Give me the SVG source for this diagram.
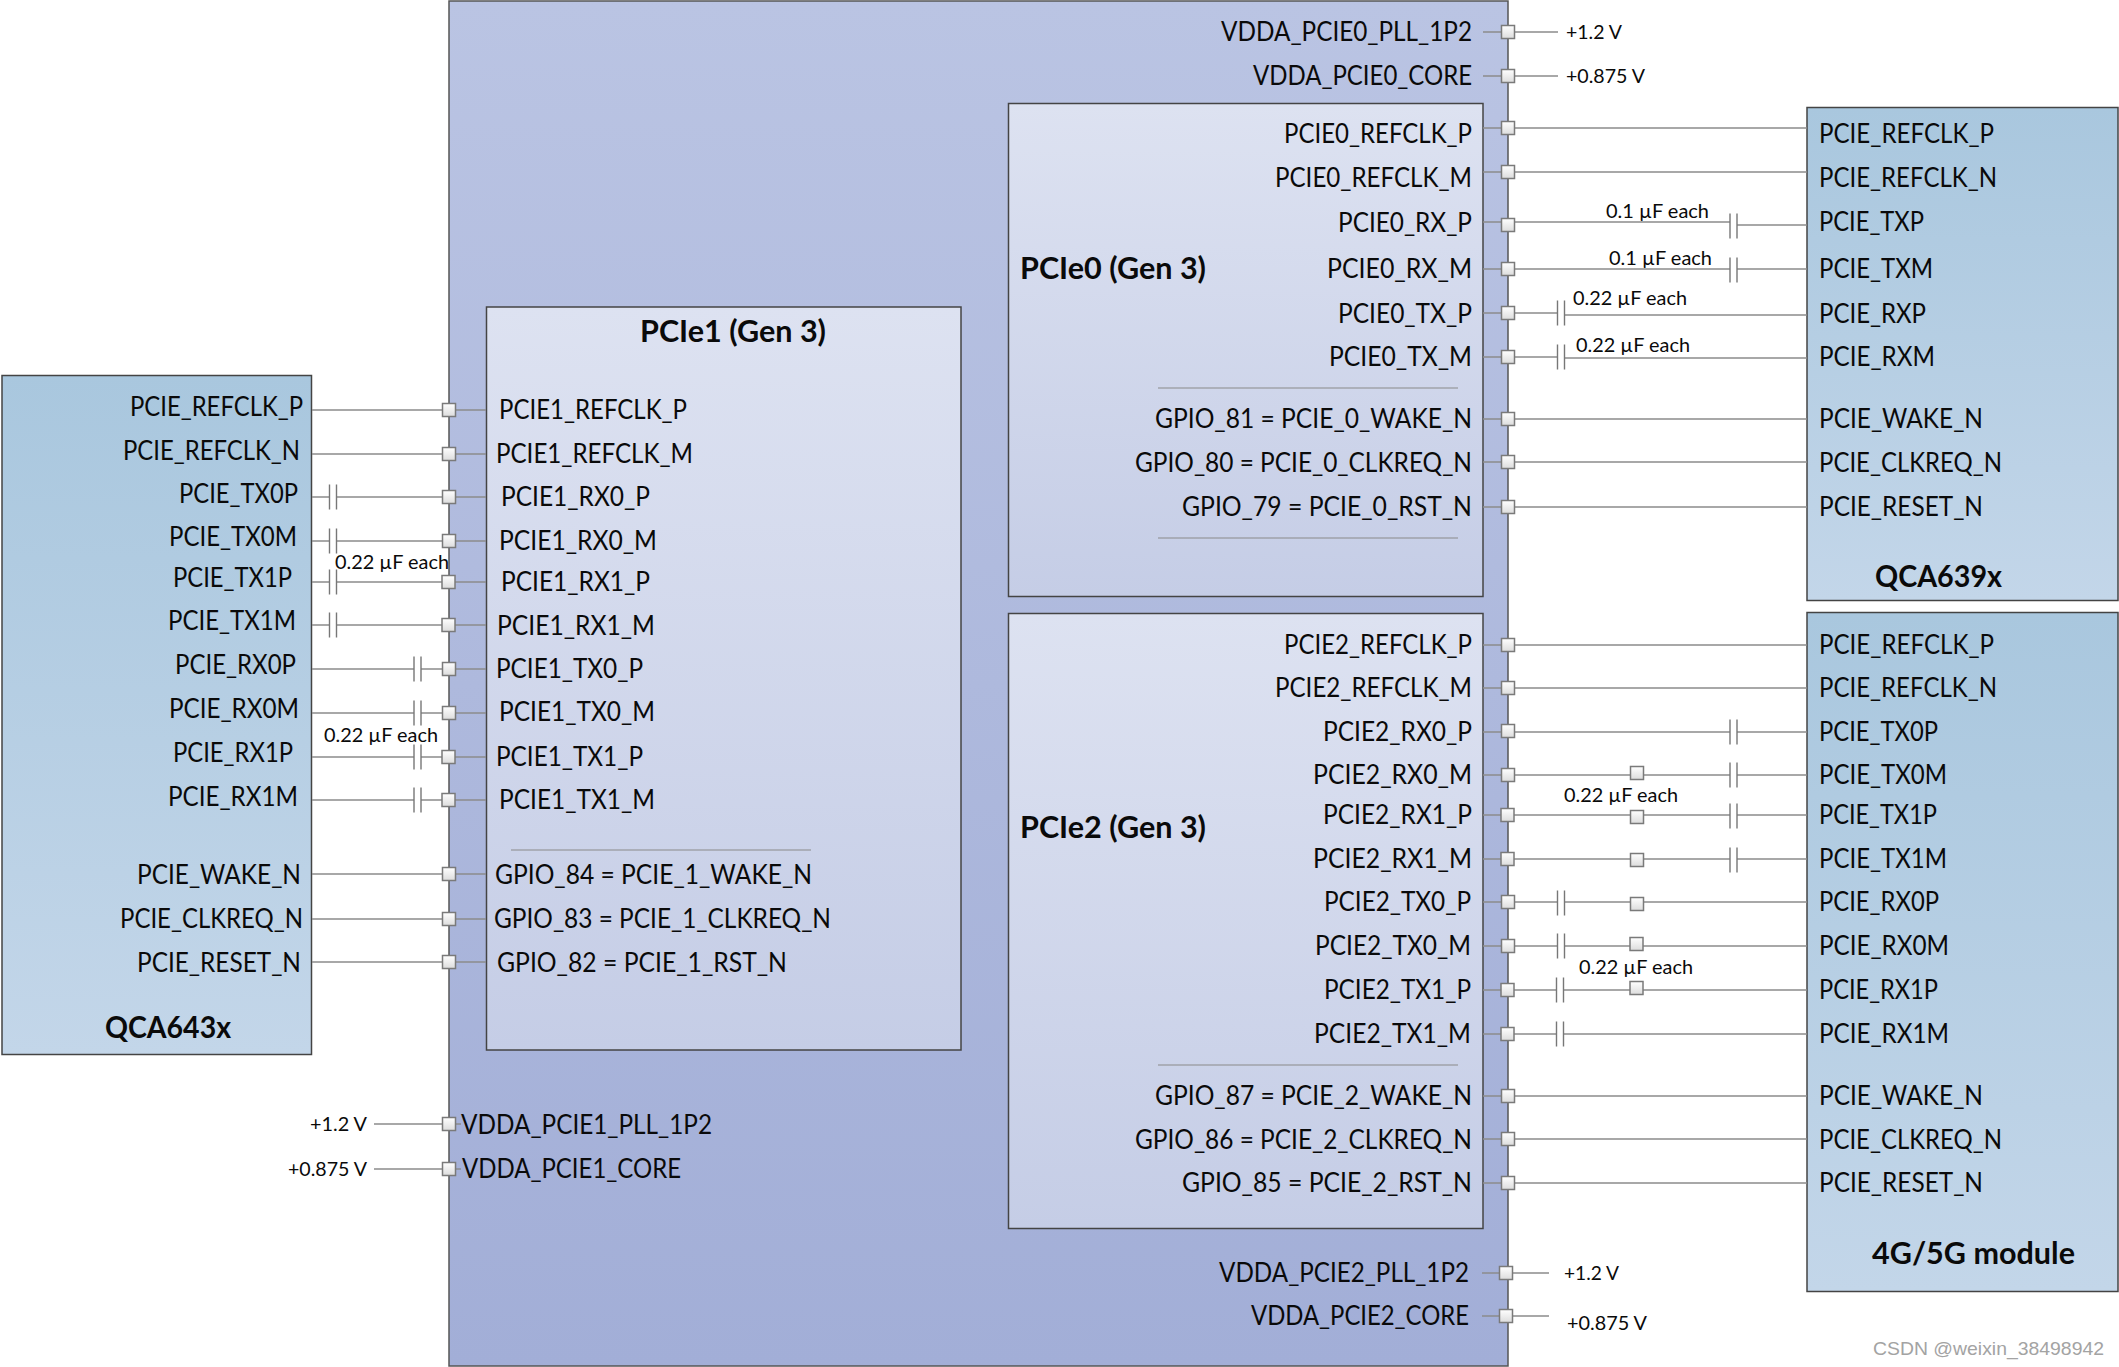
<svg xmlns="http://www.w3.org/2000/svg" width="2119" height="1367" viewBox="0 0 2119 1367">
<style>
text{font-family:Lato,"Noto Sans",sans-serif;fill:#0a0a0a}
.t{font-size:26px}
.b{font-size:30px;font-weight:700}
.s{font-size:20px}
.w{font-family:"Liberation Sans",sans-serif;font-size:19px;fill:#a3a3a3}
.box{stroke:#444;stroke-width:1.5}
.l{stroke:#8c8c8c;stroke-width:1.6;fill:none}
.c{stroke:#777;stroke-width:1.4;fill:none}
.r{stroke:#8a8a8a;stroke-width:1.2;fill:none}
</style>
<defs>
<linearGradient id="gm" x1="0" y1="0" x2="0" y2="1"><stop offset="0" stop-color="#bac4e3"/><stop offset="1" stop-color="#a2aed7"/></linearGradient>
<linearGradient id="gi" x1="0" y1="0" x2="0" y2="1"><stop offset="0" stop-color="#dde2f1"/><stop offset="1" stop-color="#c5cde6"/></linearGradient>
<linearGradient id="gb" x1="0" y1="0" x2="0" y2="1"><stop offset="0" stop-color="#a9c7de"/><stop offset="1" stop-color="#c3d6e9"/></linearGradient>
<linearGradient id="gp" x1="0" y1="0" x2="0" y2="1"><stop offset="0" stop-color="#ffffff"/><stop offset="1" stop-color="#dcdcdc"/></linearGradient>
<rect id="p" x="-6.500" y="-6.500" width="13" height="13" fill="url(#gp)" stroke="#7a7a7a" stroke-width="1.5"/>
<path id="cap" d="M-3.5-12.5V12.5M3.5-12.5V12.5" class="c"/>
</defs>
<rect width="2119" height="1367" fill="#fff"/>

<g id="soc"><rect x="449" y="1" width="1059" height="1365" fill="url(#gm)" stroke="#555" stroke-width="1.5"/></g>

<g id="pcie1-block">
<rect x="486.500" y="307" width="474.500" height="743" fill="url(#gi)" class="box"/>
<text class="b" x="640" y="342" textLength="186" lengthAdjust="spacingAndGlyphs">PCIe1 (Gen 3)</text>
<text class="t" x="499" y="419" textLength="188" lengthAdjust="spacingAndGlyphs">PCIE1_REFCLK_P</text>
<text class="t" x="496" y="463" textLength="197" lengthAdjust="spacingAndGlyphs">PCIE1_REFCLK_M</text>
<text class="t" x="501" y="506" textLength="149" lengthAdjust="spacingAndGlyphs">PCIE1_RX0_P</text>
<text class="t" x="499" y="550" textLength="158" lengthAdjust="spacingAndGlyphs">PCIE1_RX0_M</text>
<text class="t" x="501" y="591" textLength="149" lengthAdjust="spacingAndGlyphs">PCIE1_RX1_P</text>
<text class="t" x="497" y="635" textLength="158" lengthAdjust="spacingAndGlyphs">PCIE1_RX1_M</text>
<text class="t" x="496" y="678" textLength="147" lengthAdjust="spacingAndGlyphs">PCIE1_TX0_P</text>
<text class="t" x="499" y="721" textLength="156" lengthAdjust="spacingAndGlyphs">PCIE1_TX0_M</text>
<text class="t" x="496" y="766" textLength="147" lengthAdjust="spacingAndGlyphs">PCIE1_TX1_P</text>
<text class="t" x="499" y="809" textLength="156" lengthAdjust="spacingAndGlyphs">PCIE1_TX1_M</text>
<path class="r" d="M511 850H811"/>
<text class="t" x="495" y="884" textLength="317" lengthAdjust="spacingAndGlyphs">GPIO_84 = PCIE_1_WAKE_N</text>
<text class="t" x="494" y="928" textLength="337" lengthAdjust="spacingAndGlyphs">GPIO_83 = PCIE_1_CLKREQ_N</text>
<text class="t" x="497" y="972" textLength="290" lengthAdjust="spacingAndGlyphs">GPIO_82 = PCIE_1_RST_N</text>
</g>

<g id="pcie0-block">
<rect x="1008.500" y="103.500" width="474.500" height="493" fill="url(#gi)" class="box"/>
<text class="b" x="1020" y="279" textLength="186" lengthAdjust="spacingAndGlyphs">PCIe0 (Gen 3)</text>
<text class="t" x="1284" y="143" textLength="188" lengthAdjust="spacingAndGlyphs">PCIE0_REFCLK_P</text>
<text class="t" x="1275" y="187" textLength="197" lengthAdjust="spacingAndGlyphs">PCIE0_REFCLK_M</text>
<text class="t" x="1338" y="232" textLength="134" lengthAdjust="spacingAndGlyphs">PCIE0_RX_P</text>
<text class="t" x="1327" y="278" textLength="145" lengthAdjust="spacingAndGlyphs">PCIE0_RX_M</text>
<text class="t" x="1338" y="323" textLength="134" lengthAdjust="spacingAndGlyphs">PCIE0_TX_P</text>
<text class="t" x="1329" y="366" textLength="143" lengthAdjust="spacingAndGlyphs">PCIE0_TX_M</text>
<path class="r" d="M1158 388H1458M1158 538H1458"/>
<text class="t" x="1155" y="428" textLength="317" lengthAdjust="spacingAndGlyphs">GPIO_81 = PCIE_0_WAKE_N</text>
<text class="t" x="1135" y="472" textLength="337" lengthAdjust="spacingAndGlyphs">GPIO_80 = PCIE_0_CLKREQ_N</text>
<text class="t" x="1182" y="516" textLength="290" lengthAdjust="spacingAndGlyphs">GPIO_79 = PCIE_0_RST_N</text>
</g>

<g id="pcie2-block">
<rect x="1008.500" y="613.500" width="474.500" height="615" fill="url(#gi)" class="box"/>
<text class="b" x="1020" y="838" textLength="186" lengthAdjust="spacingAndGlyphs">PCIe2 (Gen 3)</text>
<text class="t" x="1284" y="654" textLength="188" lengthAdjust="spacingAndGlyphs">PCIE2_REFCLK_P</text>
<text class="t" x="1275" y="697" textLength="197" lengthAdjust="spacingAndGlyphs">PCIE2_REFCLK_M</text>
<text class="t" x="1323" y="741" textLength="149" lengthAdjust="spacingAndGlyphs">PCIE2_RX0_P</text>
<text class="t" x="1313" y="784" textLength="159" lengthAdjust="spacingAndGlyphs">PCIE2_RX0_M</text>
<text class="t" x="1323" y="824" textLength="149" lengthAdjust="spacingAndGlyphs">PCIE2_RX1_P</text>
<text class="t" x="1313" y="868" textLength="159" lengthAdjust="spacingAndGlyphs">PCIE2_RX1_M</text>
<text class="t" x="1324" y="911" textLength="147" lengthAdjust="spacingAndGlyphs">PCIE2_TX0_P</text>
<text class="t" x="1315" y="955" textLength="156" lengthAdjust="spacingAndGlyphs">PCIE2_TX0_M</text>
<text class="t" x="1324" y="999" textLength="147" lengthAdjust="spacingAndGlyphs">PCIE2_TX1_P</text>
<text class="t" x="1314" y="1043" textLength="157" lengthAdjust="spacingAndGlyphs">PCIE2_TX1_M</text>
<path class="r" d="M1158 1065H1458"/>
<text class="t" x="1155" y="1105" textLength="317" lengthAdjust="spacingAndGlyphs">GPIO_87 = PCIE_2_WAKE_N</text>
<text class="t" x="1135" y="1149" textLength="337" lengthAdjust="spacingAndGlyphs">GPIO_86 = PCIE_2_CLKREQ_N</text>
<text class="t" x="1182" y="1192" textLength="290" lengthAdjust="spacingAndGlyphs">GPIO_85 = PCIE_2_RST_N</text>
</g>

<g id="soc-supplies">
<text class="t" x="1221" y="41" textLength="251" lengthAdjust="spacingAndGlyphs">VDDA_PCIE0_PLL_1P2</text>
<text class="t" x="1253" y="85" textLength="219" lengthAdjust="spacingAndGlyphs">VDDA_PCIE0_CORE</text>
<text class="t" x="461" y="1134" textLength="251" lengthAdjust="spacingAndGlyphs">VDDA_PCIE1_PLL_1P2</text>
<text class="t" x="462" y="1178" textLength="219" lengthAdjust="spacingAndGlyphs">VDDA_PCIE1_CORE</text>
<text class="t" x="1219" y="1282" textLength="250" lengthAdjust="spacingAndGlyphs">VDDA_PCIE2_PLL_1P2</text>
<text class="t" x="1251" y="1325" textLength="218" lengthAdjust="spacingAndGlyphs">VDDA_PCIE2_CORE</text>
</g>

<g id="qca643x">
<rect x="2" y="375.500" width="309.500" height="679" fill="url(#gb)" class="box"/>
<text class="t" x="130" y="416" textLength="173" lengthAdjust="spacingAndGlyphs">PCIE_REFCLK_P</text>
<text class="t" x="123" y="460" textLength="177" lengthAdjust="spacingAndGlyphs">PCIE_REFCLK_N</text>
<text class="t" x="179" y="503" textLength="119" lengthAdjust="spacingAndGlyphs">PCIE_TX0P</text>
<text class="t" x="169" y="546" textLength="128" lengthAdjust="spacingAndGlyphs">PCIE_TX0M</text>
<text class="t" x="173" y="587" textLength="119" lengthAdjust="spacingAndGlyphs">PCIE_TX1P</text>
<text class="t" x="168" y="630" textLength="128" lengthAdjust="spacingAndGlyphs">PCIE_TX1M</text>
<text class="t" x="175" y="674" textLength="121" lengthAdjust="spacingAndGlyphs">PCIE_RX0P</text>
<text class="t" x="169" y="718" textLength="130" lengthAdjust="spacingAndGlyphs">PCIE_RX0M</text>
<text class="t" x="173" y="762" textLength="120" lengthAdjust="spacingAndGlyphs">PCIE_RX1P</text>
<text class="t" x="168" y="806" textLength="130" lengthAdjust="spacingAndGlyphs">PCIE_RX1M</text>
<text class="t" x="137" y="884" textLength="164" lengthAdjust="spacingAndGlyphs">PCIE_WAKE_N</text>
<text class="t" x="120" y="928" textLength="183" lengthAdjust="spacingAndGlyphs">PCIE_CLKREQ_N</text>
<text class="t" x="137" y="972" textLength="164" lengthAdjust="spacingAndGlyphs">PCIE_RESET_N</text>
<text class="b" x="105" y="1038" textLength="126" lengthAdjust="spacingAndGlyphs">QCA643x</text>
</g>

<g id="qca639x">
<rect x="1807" y="107.500" width="311" height="493" fill="url(#gb)" class="box"/>
<text class="t" x="1819" y="143" textLength="175" lengthAdjust="spacingAndGlyphs">PCIE_REFCLK_P</text>
<text class="t" x="1819" y="187" textLength="178" lengthAdjust="spacingAndGlyphs">PCIE_REFCLK_N</text>
<text class="t" x="1819" y="231" textLength="105" lengthAdjust="spacingAndGlyphs">PCIE_TXP</text>
<text class="t" x="1819" y="278" textLength="114" lengthAdjust="spacingAndGlyphs">PCIE_TXM</text>
<text class="t" x="1819" y="323" textLength="107" lengthAdjust="spacingAndGlyphs">PCIE_RXP</text>
<text class="t" x="1819" y="366" textLength="116" lengthAdjust="spacingAndGlyphs">PCIE_RXM</text>
<text class="t" x="1819" y="428" textLength="164" lengthAdjust="spacingAndGlyphs">PCIE_WAKE_N</text>
<text class="t" x="1819" y="472" textLength="183" lengthAdjust="spacingAndGlyphs">PCIE_CLKREQ_N</text>
<text class="t" x="1819" y="516" textLength="164" lengthAdjust="spacingAndGlyphs">PCIE_RESET_N</text>
<text class="b" x="1875" y="587" textLength="127" lengthAdjust="spacingAndGlyphs">QCA639x</text>
</g>

<g id="module-4g5g">
<rect x="1807" y="612.500" width="311" height="679" fill="url(#gb)" class="box"/>
<text class="t" x="1819" y="654" textLength="175" lengthAdjust="spacingAndGlyphs">PCIE_REFCLK_P</text>
<text class="t" x="1819" y="697" textLength="178" lengthAdjust="spacingAndGlyphs">PCIE_REFCLK_N</text>
<text class="t" x="1819" y="741" textLength="119" lengthAdjust="spacingAndGlyphs">PCIE_TX0P</text>
<text class="t" x="1819" y="784" textLength="128" lengthAdjust="spacingAndGlyphs">PCIE_TX0M</text>
<text class="t" x="1819" y="824" textLength="118" lengthAdjust="spacingAndGlyphs">PCIE_TX1P</text>
<text class="t" x="1819" y="868" textLength="128" lengthAdjust="spacingAndGlyphs">PCIE_TX1M</text>
<text class="t" x="1819" y="911" textLength="120" lengthAdjust="spacingAndGlyphs">PCIE_RX0P</text>
<text class="t" x="1819" y="955" textLength="130" lengthAdjust="spacingAndGlyphs">PCIE_RX0M</text>
<text class="t" x="1819" y="999" textLength="119" lengthAdjust="spacingAndGlyphs">PCIE_RX1P</text>
<text class="t" x="1819" y="1043" textLength="130" lengthAdjust="spacingAndGlyphs">PCIE_RX1M</text>
<text class="t" x="1819" y="1105" textLength="164" lengthAdjust="spacingAndGlyphs">PCIE_WAKE_N</text>
<text class="t" x="1819" y="1149" textLength="183" lengthAdjust="spacingAndGlyphs">PCIE_CLKREQ_N</text>
<text class="t" x="1819" y="1192" textLength="164" lengthAdjust="spacingAndGlyphs">PCIE_RESET_N</text>
<text class="b" x="1872" y="1264" textLength="203" lengthAdjust="spacingAndGlyphs">4G/5G module</text>
</g>

<g id="connectors">
<path class="l" d="M312 410H486M312 454H486M312 497H329M337 497H486M312 541H329M337 541H486M312 582H329M337 582H486M312 625H329M337 625H486M312 669H414M421 669H486M312 713H414M421 713H486M312 757H414M421 757H486M312 800H414M421 800H486M312 874H486M312 919H486M312 962H486"/>
<g>
<use href="#cap" x="333" y="497"/><use href="#cap" x="333" y="541"/><use href="#cap" x="333" y="582"/><use href="#cap" x="333" y="625"/>
<use href="#cap" x="417.500" y="669"/><use href="#cap" x="417.500" y="713"/><use href="#cap" x="417.500" y="757"/><use href="#cap" x="417.500" y="800"/>
</g>
<path class="l" d="M374 1124H461M374 1169H461M1483 32H1558M1483 76H1558M1482 1273H1549M1482 1316H1549"/>
<path class="l" d="M1483 128H1807M1483 172H1807M1483 222H1730M1737 225H1807M1483 269H1730M1737 269H1807M1483 313H1558M1564 315H1807M1483 357H1558M1564 358H1807M1483 419H1807M1483 462H1807M1483 507H1807"/>
<g>
<use href="#cap" x="1733.500" y="226"/><use href="#cap" x="1733.500" y="270"/><use href="#cap" x="1561" y="313"/><use href="#cap" x="1561" y="357"/>
</g>
<path class="l" d="M1483 645H1807M1483 688H1807M1483 732H1730M1737 732H1807M1483 775H1730M1737 775H1807M1483 815H1730M1737 815H1807M1483 859H1730M1737 859H1807M1483 902H1558M1564 902H1807M1483 946H1558M1564 946H1807M1483 990H1557M1563 990H1807M1483 1034H1557M1563 1034H1807M1483 1096H1807M1483 1139H1807M1483 1183H1807"/>
<g>
<use href="#cap" x="1733.500" y="732"/><use href="#cap" x="1733.500" y="775"/><use href="#cap" x="1733.500" y="816"/><use href="#cap" x="1733.500" y="860"/>
<use href="#cap" x="1561" y="903"/><use href="#cap" x="1561" y="946"/><use href="#cap" x="1560" y="990"/><use href="#cap" x="1560" y="1034"/>
</g>
</g>

<g id="pins">
<use href="#p" x="449" y="410"/><use href="#p" x="449" y="454"/><use href="#p" x="449" y="497"/><use href="#p" x="449" y="541"/><use href="#p" x="448.500" y="582"/><use href="#p" x="448.500" y="625"/><use href="#p" x="449" y="669"/><use href="#p" x="449" y="713"/><use href="#p" x="448.500" y="757"/><use href="#p" x="448.500" y="800"/><use href="#p" x="449" y="874"/><use href="#p" x="449" y="919"/><use href="#p" x="449" y="962"/><use href="#p" x="449" y="1124"/><use href="#p" x="449" y="1169"/>
<use href="#p" x="1508" y="32"/><use href="#p" x="1508" y="76"/><use href="#p" x="1508" y="128"/><use href="#p" x="1508" y="172"/><use href="#p" x="1508" y="225"/><use href="#p" x="1508" y="269"/><use href="#p" x="1508" y="313"/><use href="#p" x="1508" y="357"/><use href="#p" x="1508" y="419"/><use href="#p" x="1508" y="462"/><use href="#p" x="1508" y="507"/>
<use href="#p" x="1508" y="645"/><use href="#p" x="1508" y="688"/><use href="#p" x="1508" y="731"/><use href="#p" x="1508" y="775"/><use href="#p" x="1507.500" y="815"/><use href="#p" x="1507.500" y="859"/><use href="#p" x="1508" y="902"/><use href="#p" x="1508" y="946"/><use href="#p" x="1507.500" y="990"/><use href="#p" x="1507.500" y="1034"/><use href="#p" x="1508" y="1096"/><use href="#p" x="1508" y="1139"/><use href="#p" x="1508" y="1183"/><use href="#p" x="1506" y="1273"/><use href="#p" x="1506" y="1316"/>
<use href="#p" x="1637" y="773"/><use href="#p" x="1637" y="817"/><use href="#p" x="1637" y="860"/><use href="#p" x="1637" y="904"/><use href="#p" x="1636.500" y="944"/><use href="#p" x="1636.500" y="988"/>
</g>

<g id="labels">
<text class="s" x="1566" y="39" textLength="56" lengthAdjust="spacingAndGlyphs">+1.2 V</text>
<text class="s" x="1566" y="83" textLength="79" lengthAdjust="spacingAndGlyphs">+0.875 V</text>
<text class="s" x="310" y="1131" textLength="57" lengthAdjust="spacingAndGlyphs">+1.2 V</text>
<text class="s" x="288" y="1176" textLength="79" lengthAdjust="spacingAndGlyphs">+0.875 V</text>
<text class="s" x="1564" y="1280" textLength="55" lengthAdjust="spacingAndGlyphs">+1.2 V</text>
<text class="s" x="1567" y="1330" textLength="80" lengthAdjust="spacingAndGlyphs">+0.875 V</text>
<text class="s" x="1606" y="218" textLength="103" lengthAdjust="spacingAndGlyphs">0.1 µF each</text>
<text class="s" x="1609" y="265" textLength="103" lengthAdjust="spacingAndGlyphs">0.1 µF each</text>
<text class="s" x="1573" y="305" textLength="114" lengthAdjust="spacingAndGlyphs">0.22 µF each</text>
<text class="s" x="1576" y="352" textLength="114" lengthAdjust="spacingAndGlyphs">0.22 µF each</text>
<text class="s" x="335" y="569" textLength="114" lengthAdjust="spacingAndGlyphs">0.22 µF each</text>
<text class="s" x="324" y="742" textLength="114" lengthAdjust="spacingAndGlyphs">0.22 µF each</text>
<text class="s" x="1564" y="802" textLength="114" lengthAdjust="spacingAndGlyphs">0.22 µF each</text>
<text class="s" x="1579" y="974" textLength="114" lengthAdjust="spacingAndGlyphs">0.22 µF each</text>
<text class="w" x="1873" y="1355" textLength="231" lengthAdjust="spacingAndGlyphs">CSDN @weixin_38498942</text>
</g>
</svg>
